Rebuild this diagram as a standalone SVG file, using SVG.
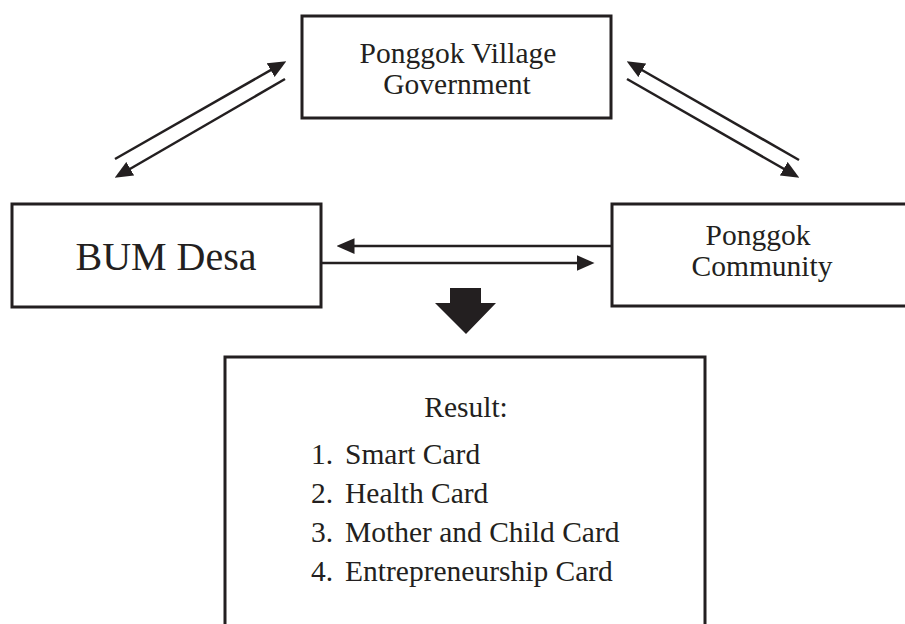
<svg xmlns="http://www.w3.org/2000/svg" width="905" height="624" viewBox="0 0 905 624">
<style>
.box{fill:#fff;stroke:#231f20;stroke-width:3}
.t{font-family:"Liberation Serif","Times New Roman",serif;fill:#231f20;font-size:29.5px}
.c{text-anchor:middle}
.ln{stroke:#231f20;stroke-width:2.5;fill:none;marker-end:url(#ah)}
</style>
<defs>
<marker id="ah" markerUnits="userSpaceOnUse" markerWidth="18" markerHeight="16" viewBox="0 0 16 14" refX="4" refY="7" orient="auto">
<path d="M0,0 L16,7 L0,14 z" fill="#231f20"/>
</marker>
</defs>
<rect width="905" height="624" fill="#fff"/>
<g id="gov">
<rect class="box" x="302" y="16" width="309" height="102"/>
<text class="t c" x="458" y="63">Ponggok Village</text>
<text class="t c" x="457" y="94">Government</text>
</g>
<g id="bum">
<rect class="box" x="12" y="204" width="309" height="103"/>
<text class="t c" x="166" y="270" style="font-size:40px">BUM Desa</text>
</g>
<g id="community">
<rect class="box" x="612" y="204" width="310" height="102"/>
<text class="t c" x="758" y="245">Ponggok</text>
<text class="t c" x="762" y="276">Community</text>
</g>
<g id="result">
<rect class="box" x="225" y="357" width="480" height="290"/>
<text class="t c" x="466" y="417">Result:</text>
<text class="t" x="311" y="464">1.</text><text class="t" x="345" y="464">Smart Card</text>
<text class="t" x="311" y="503">2.</text><text class="t" x="345" y="503">Health Card</text>
<text class="t" x="311" y="542">3.</text><text class="t" x="345" y="542">Mother and Child Card</text>
<text class="t" x="311" y="581">4.</text><text class="t" x="345" y="581">Entrepreneurship Card</text>
</g>
<g id="connectors">
<line class="ln" x1="115" y1="159" x2="274.6" y2="67.9"/>
<line class="ln" x1="285" y1="79" x2="126.4" y2="171"/>
<line class="ln" x1="799" y1="160" x2="638.4" y2="68"/>
<line class="ln" x1="627" y1="79" x2="787.6" y2="171"/>
<line class="ln" x1="611" y1="246" x2="350" y2="246"/>
<line class="ln" x1="320" y1="263" x2="581" y2="263"/>
<polygon points="450,288 481,288 481,303 496,303 466,334 435,303 450,303" fill="#231f20"/>
</g>
</svg>
